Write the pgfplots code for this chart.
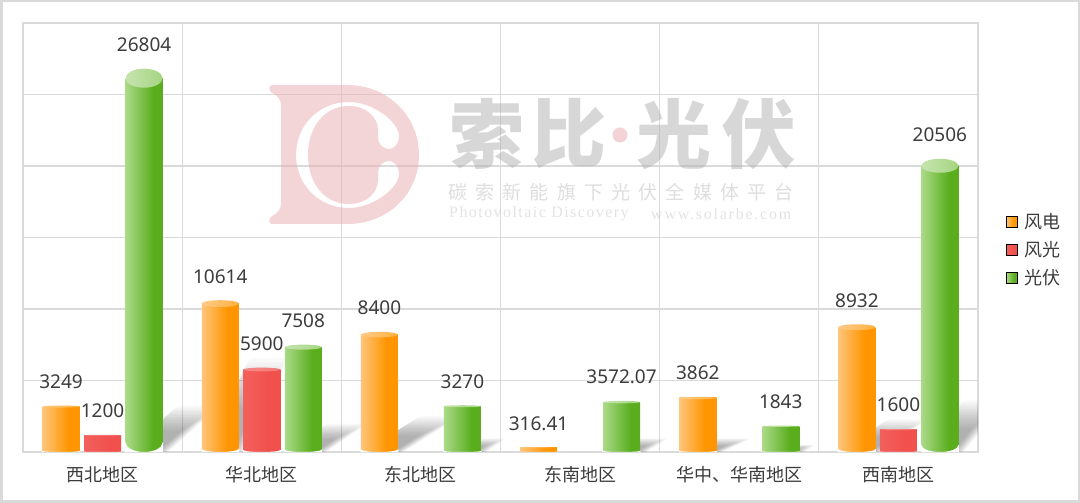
\documentclass[border=0pt]{standalone}
\usepackage{fontspec}
\usepackage{pgfplots}
\usepackage{pgfplotstable}
\pgfplotsset{compat=1.18}
\setmainfont{Noto Sans}
\newfontfamily\cjk{Noto Sans CJK SC}
\newfontfamily\cjkspaced[LetterSpace=43]{Noto Sans CJK SC}
\newfontfamily\wmserif[LetterSpace=9]{Liberation Serif}
\newfontfamily\wmurl[LetterSpace=11]{Liberation Serif}

\definecolor{txt}{HTML}{3C3C3C}
\definecolor{gridc}{HTML}{DADADA}
\definecolor{wmP}{HTML}{EBADB1}
\definecolor{wmD}{HTML}{E8A8AE}
\definecolor{wmG}{HTML}{B0B0B0}
\definecolor{wmS}{HTML}{BEBEBE}
\definecolor{wmE}{HTML}{C8C8C8}
\definecolor{oL}{HTML}{FFC57A}\definecolor{oD}{HTML}{FF9500}
\definecolor{rL}{HTML}{F2605C}\definecolor{rD}{HTML}{F1504D}
\definecolor{gL}{HTML}{ABDA88}\definecolor{gD}{HTML}{5AAE1E}
\definecolor{ocL}{HTML}{FFCB88}\definecolor{ocD}{HTML}{FFB040}
\definecolor{rcL}{HTML}{F58A88}\definecolor{rcD}{HTML}{F47A78}
\definecolor{gcL}{HTML}{C6E4AF}\definecolor{gcD}{HTML}{A6D582}
\pgfdeclarehorizontalshading{sO}{100bp}{color(0bp)=(oL); color(25bp)=(oL); color(60bp)=(oD); color(100bp)=(oD)}
\pgfdeclarehorizontalshading{sR}{100bp}{color(0bp)=(rL); color(25bp)=(rL); color(60bp)=(rD); color(100bp)=(rD)}
\pgfdeclarehorizontalshading{sG}{100bp}{color(0bp)=(gL); color(25bp)=(gL); color(62bp)=(gD); color(100bp)=(gD)}

\newcommand{\declcap}[3]{\pgfdeclareplotmark{#1}{\shade[draw=none,left color=#2,right color=#3] (0pt,0pt) ellipse [x radius=18.5pt,y radius=\ry pt];}}
\declcap{capO}{ocL}{ocD}
\declcap{capR}{rcL}{rcD}
\declcap{capG}{gcL}{gcD}
\pgfdeclareplotmark{basemask}{\fill[white,draw=none] (-19pt,\ry pt) -- (-18.5pt,\ry pt) arc[start angle=180,end angle=360,x radius=18.5pt,y radius=\ry pt] -- (19pt,\ry pt) -- (19pt,-0.2pt) -- (-19pt,-0.2pt) -- cycle;}

% x = region index, v = value, ry = half height of the cylinder's end in px
\pgfplotstableread{
x v ry label
0 3249 1.0 3249
1 10614 3.4 10614
2 8400 2.7 8400
3 316.41 0.3 316.41
4 3862 1.2 3862
5 8932 2.9 8932
}\windtable
\pgfplotstableread{
x v ry label
0 1200 0.4 1200
1 5900 1.9 5900
5 1600 0.5 1600
}\hybridtable
\pgfplotstableread{
x v ry label
0 26804 9.5 26804
1 7508 2.5 7508
2 3270 1.0 3270
3 3572.07 1.2 3572.07
4 1843 0.6 1843
5 20506 7.0 20506
}\solartable

\newcommand{\cyl}[6]{%
 \pgfplotsinvokeforeach{#6}{%
 \addplot[ybar,bar width=37pt,bar shift=#2pt,draw=none,shade,shading=#4,forget plot,restrict x to domain=##1:##1]
   table[x=x,y expr=\thisrow{v}-69.93*\thisrow{ry}] {#1};
 }%
 \addplot[scatter,only marks,mark=#5,point meta=y,forget plot,visualization depends on={\thisrow{ry}\as\ry},scatter/use mapped color={draw=none,fill=none}]
   table[x expr=\thisrow{x}+#3,y expr=\thisrow{v}-69.93*\thisrow{ry}] {#1};
 \addplot[scatter,only marks,mark=basemask,point meta=y,forget plot,visualization depends on={\thisrow{ry}\as\ry},scatter/use mapped color={draw=none,fill=none}]
   table[x expr=\thisrow{x}+#3,y expr=0] {#1};
}
\newcommand{\lab}[2]{%
 \addplot[draw=none,forget plot,point meta=explicit symbolic,nodes near coords,
   nodes near coords align={anchor=center},
   every node near coord/.append style={yshift=24pt,inner sep=0pt,text=txt,font=\fontsize{19}{21}\selectfont}]
   table[x expr=\thisrow{x}+#2,y=v,meta=label] {#1};
}
\newcommand{\shadowbar}[4]{% x1 x2 dx dy, in px
 \foreach \k in {0,...,13}{%
  \pgfmathsetmacro{\f}{1.05-0.042*\k}
  \pgfmathsetmacro{\ins}{0.8*\k-5}
  \fill[black,opacity=.024,rounded corners=3pt]
   (#1,453) -- (#2-\ins,453)
   -- ({#2-\ins+#3*\f},{453-#4*\f}) -- ({#1+#3*\f},{453-#4*\f}) -- cycle;
 }%
}

\begin{document}
\begin{tikzpicture}
\useasboundingbox (0,0) rectangle (1080pt,503pt);
\fill[white] (0,0) rectangle (1080pt,503pt);
% frame, tick labels and grid
\begin{axis}[
  at={(23pt,51pt)},anchor=south west,scale only axis,width=955pt,height=429pt,
  xmin=-0.5,xmax=5.5,ymin=0,ymax=30000,
  scaled y ticks=false,
  xtick={0,1,2,3,4,5},
  xticklabels={西北地区,华北地区,东北地区,东南地区,华中、华南地区,西南地区},
  minor xtick={-0.5,0.5,1.5,2.5,3.5,4.5,5.5},
  ytick={0,5000,10000,15000,20000,25000,30000},
  yticklabels={},
  xminorgrids,ymajorgrids,
  grid style={gridc,line width=1.2pt},
  minor grid style={gridc,line width=1.2pt},
  major tick length=0pt,minor tick length=0pt,
  axis line style={gridc,line width=1.2pt},
  xticklabel style={font=\cjk\fontsize{18}{20}\selectfont,text=txt,yshift=-11pt},
]
\end{axis}
\begin{scope}[shift={(0,503pt)},x=1pt,y=-1pt]
  \draw[gridc,line width=2.5pt] (1.25,1.25) rectangle (1078.75,501.75);
  % watermark
  \fill[fill=wmP,opacity=.5,even odd rule]
    (272,85) -- (347,85) .. controls (388,85) and (419,116) .. (419,155)
    .. controls (419,194) and (388,224) .. (347,224) -- (272,224)
    .. controls (269,224) and (268,219) .. (272,216) .. controls (279,213) and (281,208) .. (281,203)
    -- (281,106) .. controls (281,101) and (279,96) .. (272,93) .. controls (268,91) and (269,85) .. (272,85) -- cycle
    (349,102) .. controls (373,102) and (399,122) .. (399,136)
    .. controls (399,144) and (394,149) .. (389,149) .. controls (383,149) and (378,144) .. (378,137)
    -- (378,130) .. controls (378,117) and (366,106) .. (349,106)
    .. controls (325,106) and (308,126) .. (308,155) .. controls (308,184) and (325,204) .. (349,204)
    .. controls (366,204) and (378,193) .. (378,180) -- (378,173)
    .. controls (378,166) and (383,161) .. (389,161) .. controls (394,161) and (399,166) .. (399,174)
    .. controls (399,188) and (373,208) .. (349,208)
    .. controls (319,208) and (296,185) .. (296,155) .. controls (296,125) and (319,102) .. (349,102) -- cycle;
  \begin{scope}[every node/.style={inner sep=0pt,text=wmG,text opacity=.5,font=\cjk\bfseries\fontsize{75}{80}\selectfont}]
    \node at (487,134) {索};
    \node at (569,134) {比};
    \node at (674,134) {光};
    \node at (759,134) {伏};
  \end{scope}
  \fill[wmD,opacity=.5] (620,135) circle (7.5);
  \node[inner sep=0pt,text=wmS,text opacity=.5,font=\cjkspaced\fontsize{19}{21}\selectfont] at (621,192) {碳索新能旗下光伏全媒体平台};
  \node[inner sep=0pt,anchor=west,text=wmE,text opacity=.5,font=\wmserif\fontsize{16}{18}\selectfont] at (449,214) {Photovoltaic Discovery};
  \node[inner sep=0pt,anchor=west,text=wmE,text opacity=.5,font=\wmurl\fontsize{16}{18}\selectfont] at (651,214) {www.solarbe.com};
  % shadows behind the cylinders
  \begin{scope}
    \clip (23,23) rectangle (978,452);
    \shadowbar{125}{162}{50}{45}
    \shadowbar{205}{238}{42}{90}
    \shadowbar{285}{320}{40}{28}
    \shadowbar{362}{397}{55}{35}
    \shadowbar{445}{480}{20}{14}
    \shadowbar{604}{640}{22}{14}
    \shadowbar{680}{715}{30}{14}
    \shadowbar{763}{798}{12}{8}
    \shadowbar{840}{875}{45}{32}
    \shadowbar{921}{958}{40}{50}
  \end{scope}
\end{scope}
% cylinders, value labels and legend
\begin{axis}[
  at={(23pt,51pt)},anchor=south west,scale only axis,width=955pt,height=429pt,
  xmin=-0.5,xmax=5.5,ymin=0,ymax=30000,
  hide axis,clip=false,
  legend style={at={(1.029,0.556)},anchor=north west,draw=none,fill=none,inner sep=0pt,
    row sep=11.5pt,column sep=7pt,nodes={inner sep=0pt},text=txt,
    font=\cjk\fontsize{18}{20}\selectfont},
  legend cell align=left,
]
\addlegendimage{legend image code/.code={\shade[shading=sO] (0pt,-5.5pt) rectangle (11pt,5.5pt);}}
\addlegendimage{legend image code/.code={\shade[shading=sR] (0pt,-5.5pt) rectangle (11pt,5.5pt);}}
\addlegendimage{legend image code/.code={\shade[shading=sG] (0pt,-5.5pt) rectangle (11pt,5.5pt);}}
\legend{风电,风光,光伏}
\cyl{\windtable}{-41.5}{-0.2607}{sO}{capO}{0,1,2,3,4,5}
\cyl{\hybridtable}{0}{0}{sR}{capR}{0,1,5}
\cyl{\solartable}{41.5}{0.2607}{sG}{capG}{0,1,2,3,4,5}
\lab{\windtable}{-0.2607}
\lab{\hybridtable}{0}
\lab{\solartable}{0.2607}
\end{axis}
\end{tikzpicture}
\end{document}
